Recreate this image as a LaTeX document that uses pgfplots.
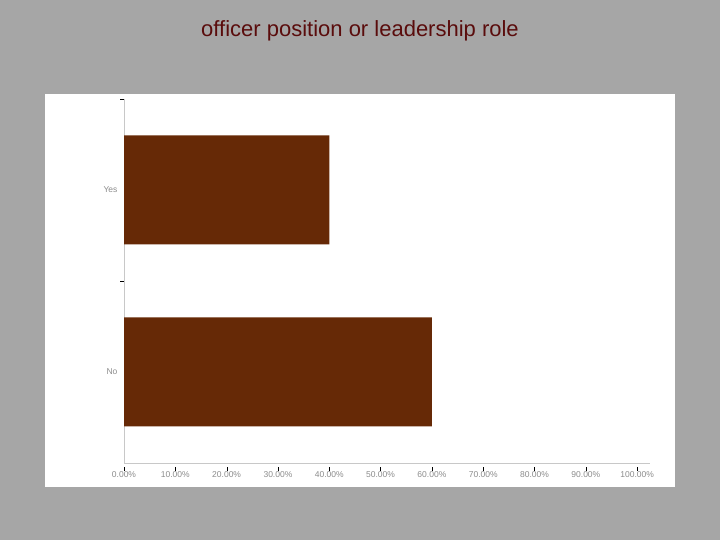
\documentclass[border=0pt]{standalone}
\usepackage{pgfplots}
\pgfplotsset{compat=1.18}
\usepackage{fontspec}
\setmainfont{Liberation Sans}
\definecolor{bg}{HTML}{A6A6A6}
\definecolor{barc}{HTML}{662906}
\definecolor{titlec}{HTML}{5A0C0C}
\definecolor{axc}{HTML}{C8C8C8}
\definecolor{labc}{HTML}{8C8C8C}
\begin{document}
\begin{tikzpicture}
\fill[bg] (0pt,0pt) rectangle (720pt,540pt);
\fill[white] (45pt,53pt) rectangle (675pt,446pt);
\node[text=titlec,font=\fontsize{22}{26}\selectfont] at (360pt,509pt) {officer position or leadership role};
\begin{axis}[
  at={(124pt,77pt)}, anchor=south west,
  scale only axis, width=526pt, height=364pt,
  xmin=0, xmax=102.5, ymin=0, ymax=2,
  xbar, bar width=109pt,
  axis x line*=bottom, axis y line*=left,
  axis line style={axc},
  xtick={0,10,...,100},
  xticklabel={\pgfmathprintnumber[fixed,fixed zerofill,precision=2]{\tick}\%},
  /pgf/number format/assume math mode=true,
  xticklabel style={font=\fontsize{8.5}{10}\selectfont, text=labc, yshift=-1pt},
  xtick style={black, yshift=-4pt},
  tick align=outside, major tick length=4pt,
  ytick={1,2}, yticklabels={},
  ytick style={black},
  extra y ticks={0.5,1.5},
  extra y tick labels={No,Yes},
  extra y tick style={major tick length=0pt, yticklabel style={font=\fontsize{8.5}{10}\selectfont, text=labc, xshift=-3pt}},
]
\addplot[fill=barc, draw=none] coordinates {(60,0.5) (40,1.5)};
\end{axis}
\end{tikzpicture}
\end{document}
